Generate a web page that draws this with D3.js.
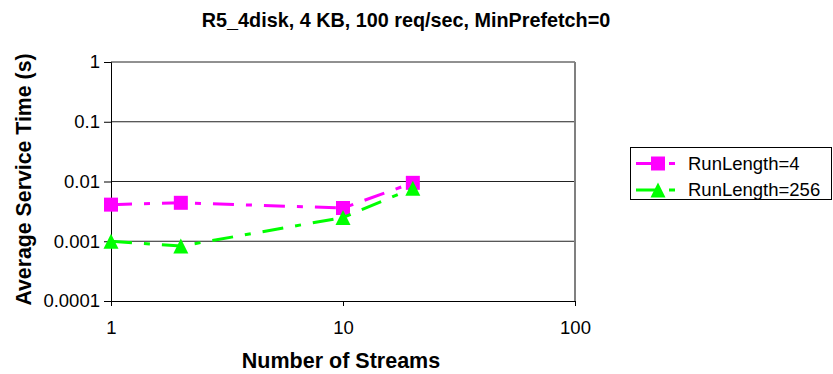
<!DOCTYPE html>
<html>
<head>
<meta charset="utf-8">
<script src="https://cdn.jsdelivr.net/npm/d3@7/dist/d3.min.js"></script>
<style>
  html, body { margin: 0; padding: 0; background: #fff; }
  svg { display: block; }
  text { font-family: Arial, "Liberation Sans", sans-serif; fill: #000; }
</style>
</head>
<body>
<svg id="chart" width="833" height="374"></svg>
<script>
// Number of concurrent streams (x) and average service time in seconds (y)
const streams = [1, 2, 10, 20];
const runLength4 = [0.0041, 0.0044, 0.0036, 0.0095];
const runLength256 = [0.0010, 0.00083, 0.0025, 0.0077];
const seriesNames = ["RunLength=4", "RunLength=256"];
const xTicks = [1, 10, 100];
const yTicks = [0.0001, 0.001, 0.01, 0.1, 1];
const yTickLabels = ["0.0001", "0.001", "0.01", "0.1", "1"];
const title = "R5_4disk, 4 KB, 100 req/sec, MinPrefetch=0";
const xTitle = "Number of Streams";
const yTitle = "Average Service Time (s)";

const svg = d3.select("#chart");

const plot = { left: 111, right: 575, top: 62, bottom: 301 };

const x = d3.scaleLog().domain([1, 100]).range([plot.left, plot.right]);
const y = d3.scaleLog().domain([0.0001, 1]).range([plot.bottom, plot.top]);

// Horizontal gridlines at each decade
svg.append("g")
  .selectAll("line")
  .data(yTicks.slice(1))
  .join("line")
  .attr("x1", plot.left).attr("x2", plot.right)
  .attr("y1", d => y(d)).attr("y2", d => y(d))
  .attr("stroke", "#222").attr("stroke-width", 1);

// Right edge of the plot area
svg.append("line")
  .attr("x1", plot.right).attr("x2", plot.right)
  .attr("y1", plot.top).attr("y2", plot.bottom)
  .attr("stroke", "#808080").attr("stroke-width", 2);

// Y axis
const yAxis = d3.axisLeft(y)
  .tickValues(yTicks)
  .tickFormat((d, i) => yTickLabels[i])
  .tickSize(7)
  .tickPadding(4);
const gy = svg.append("g")
  .attr("transform", `translate(${plot.left},0)`)
  .call(yAxis);
gy.select(".domain").attr("stroke", "#000");
gy.selectAll(".tick line").attr("stroke", "#000");
gy.selectAll(".tick text")
  .attr("font-size", "18.5px")
  .style("font-family", "Arial, 'Liberation Sans', sans-serif")
  .attr("fill", "#000");

// X axis
const xAxis = d3.axisBottom(x)
  .tickValues(xTicks)
  .tickFormat(d3.format("d"))
  .tickSize(5)
  .tickPadding(15);
const gx = svg.append("g")
  .attr("transform", `translate(0,${plot.bottom})`)
  .call(xAxis);
gx.select(".domain").attr("stroke", "#000");
gx.selectAll(".tick line").attr("stroke", "#000");
gx.selectAll(".tick text")
  .attr("font-size", "18.5px")
  .style("font-family", "Arial, 'Liberation Sans', sans-serif")
  .attr("fill", "#000");

// Series definitions
const series = [
  { name: seriesNames[0], values: runLength4, color: "#ff00ff", marker: "square" },
  { name: seriesNames[1], values: runLength256, color: "#00ff00", marker: "triangle" }
];
const dash = "21,12,6,12";

const line = d3.line()
  .x(d => x(d[0]))
  .y(d => y(d[1]));

const squareSym = d3.symbol().type(d3.symbolSquare).size(14 * 14);
function triPath(cx, cy, w, h) {
  return `M${cx},${cy - h / 2}L${cx + w / 2},${cy + h / 2}L${cx - w / 2},${cy + h / 2}Z`;
}

series.forEach(s => {
  const pts = streams.map((v, i) => [v, s.values[i]]);
  const g = svg.append("g");
  g.append("path")
    .attr("d", line(pts))
    .attr("fill", "none")
    .attr("stroke", s.color)
    .attr("stroke-width", 3)
    .attr("stroke-dasharray", dash);
  pts.forEach(p => {
    const cx = x(p[0]), cy = y(p[1]);
    if (s.marker === "square") {
      g.append("path")
        .attr("d", squareSym())
        .attr("transform", `translate(${cx},${cy})`)
        .attr("fill", s.color);
    } else {
      g.append("path")
        .attr("d", triPath(cx, cy, 15, 15))
        .attr("fill", s.color);
    }
  });
});

// Chart title
svg.append("text")
  .attr("x", 406).attr("y", 27)
  .attr("text-anchor", "middle")
  .attr("font-size", "19.8px")
  .attr("font-weight", "bold")
  .text(title);

// Axis titles
svg.append("text")
  .attr("x", 341).attr("y", 368)
  .attr("text-anchor", "middle")
  .attr("font-size", "21.5px")
  .attr("font-weight", "bold")
  .text(xTitle);

svg.append("text")
  .attr("transform", `translate(31,${(plot.top + plot.bottom) / 2 - 2}) rotate(-90)`)
  .attr("text-anchor", "middle")
  .attr("font-size", "21.3px")
  .attr("font-weight", "bold")
  .text(yTitle);

// Legend
const legend = svg.append("g");
legend.append("rect")
  .attr("x", 630.5).attr("y", 147.5)
  .attr("width", 201).attr("height", 52)
  .attr("fill", "#fff")
  .attr("stroke", "#000").attr("stroke-width", 1);

const rowY = [163.5, 190];
series.forEach((s, i) => {
  const cy = rowY[i];
  legend.append("line")
    .attr("x1", 636).attr("x2", 676)
    .attr("y1", cy).attr("y2", cy)
    .attr("stroke", s.color)
    .attr("stroke-width", 3)
    .attr("stroke-dasharray", dash);
  if (s.marker === "square") {
    legend.append("path")
      .attr("d", squareSym())
      .attr("transform", `translate(658,${cy})`)
      .attr("fill", s.color);
  } else {
    legend.append("path")
      .attr("d", triPath(658, cy, 15, 15))
      .attr("fill", s.color);
  }
  legend.append("text")
    .attr("x", 688).attr("y", cy)
    .attr("dy", "0.35em")
    .attr("font-size", "18.5px")
    .text(s.name);
});
</script>
</body>
</html>
